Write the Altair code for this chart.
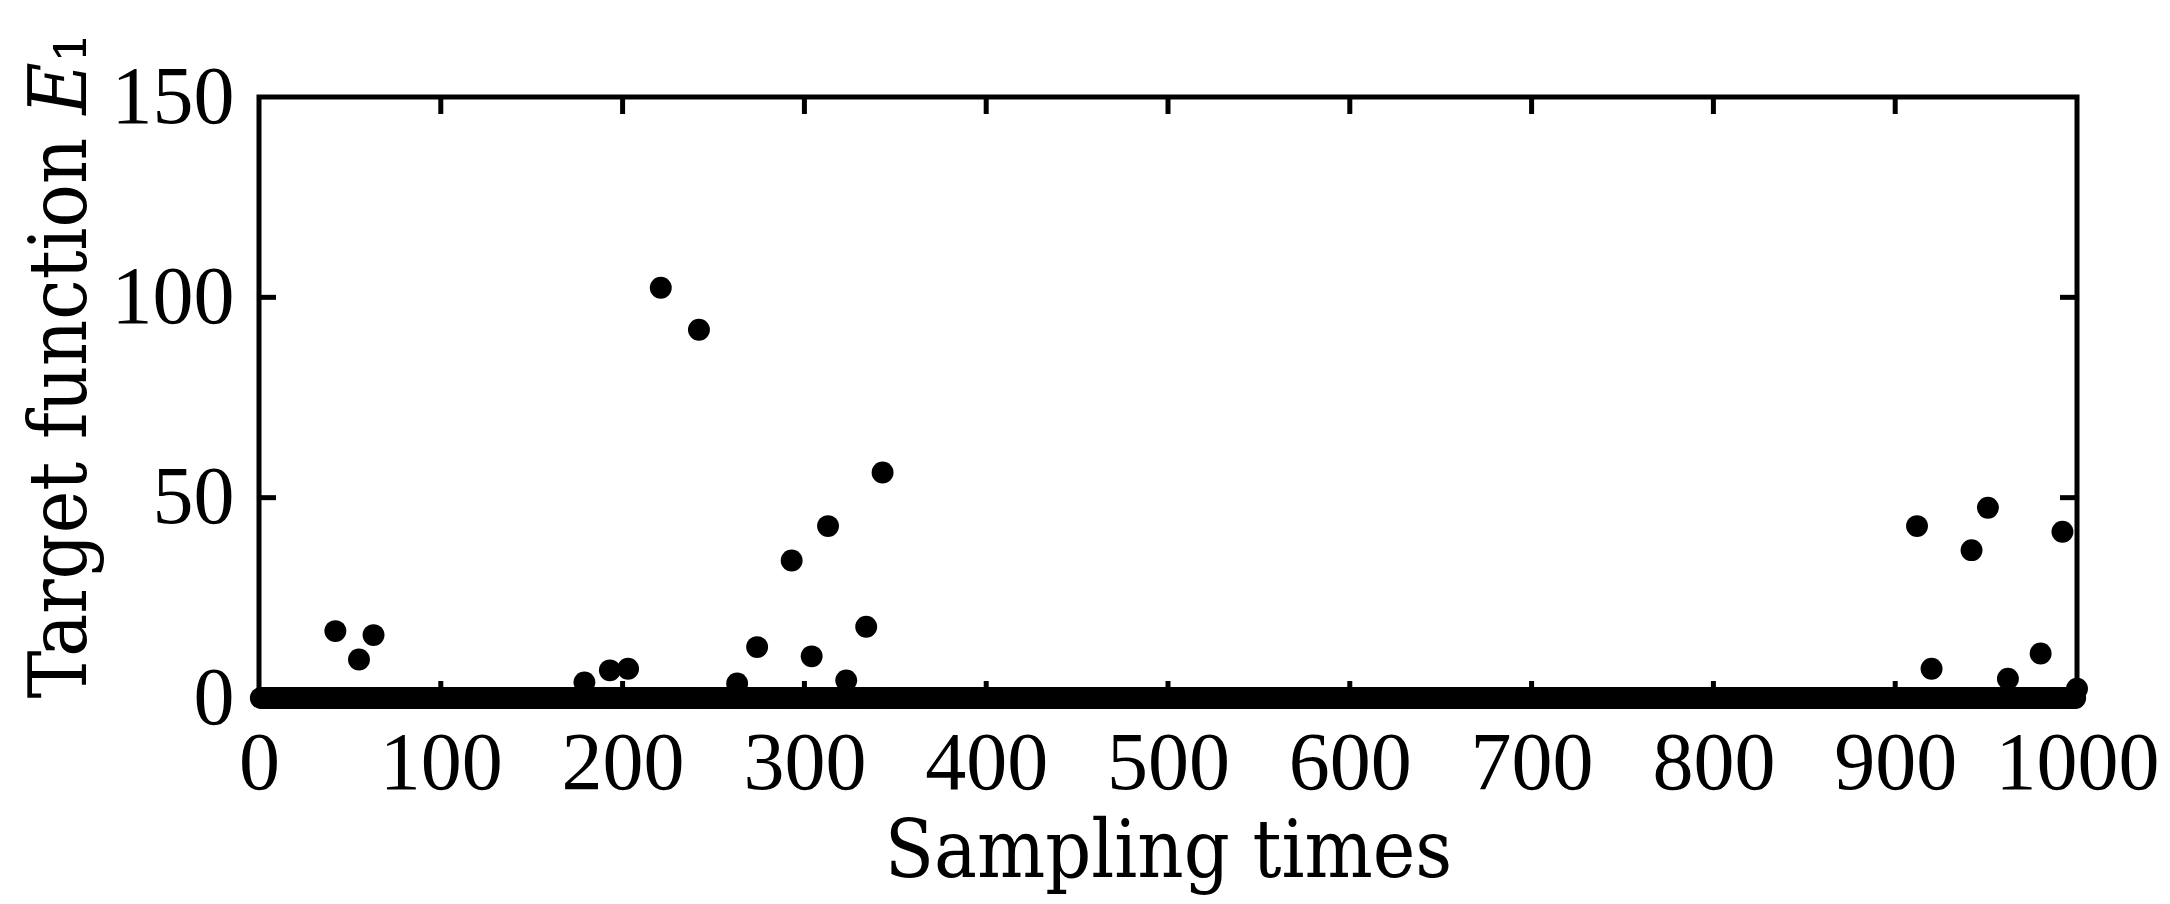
import altair as alt
import pandas as pd

# ---- data ----
# samples whose target function value clearly departs from zero
outlier_x = [42, 55, 63, 179, 193, 203, 221, 242, 263, 274, 293, 304, 313, 323, 334, 343,
             912, 920, 942, 951, 962, 980, 992, 1000]
outlier_y = [16.7, 9.6, 15.7, 3.9, 6.9, 7.3, 102.4, 91.9, 3.6, 12.7, 34.3, 10.4, 42.9, 4.4, 17.8, 56.3,
             42.9, 7.3, 36.9, 47.5, 4.8, 11.1, 41.5, 2.3]
# all other samples sit on the zero line (the thick band)
n_samples = 1000
baseline_value = 0.0

x_tick_values = [0, 100, 200, 300, 400, 500, 600, 700, 800, 900, 1000]
y_tick_values = [0, 50, 100, 150]
inner_x_ticks = [100, 200, 300, 400, 500, 600, 700, 800, 900]
inner_y_ticks = [50, 100]

# ---- build table ----
out_map = dict(zip(outlier_x, outlier_y))
t_vals = list(range(1, n_samples + 1))
e_vals = [out_map.get(t, baseline_value) for t in t_vals]
pts = pd.DataFrame({"t": t_vals, "E": e_vals})
dfx = pd.DataFrame({"t": inner_x_ticks})
dfy = pd.DataFrame({"E": inner_y_ticks})

W, H = 1818, 601
TICK = 17
LABEL_FONT = "Liberation Serif"
TITLE_FONT = "DejaVu Serif Condensed, DejaVu Serif"

xscale = alt.Scale(domain=[0, 1000], nice=False, zero=False)
yscale = alt.Scale(domain=[0, 150], nice=False)

x_axis = alt.Axis(
    values=x_tick_values, format="d", title="Sampling times",
    labelFont=LABEL_FONT, labelFontSize=82, labelColor="black",
    labelBaseline="alphabetic", labelPadding=90, labelOverlap=False, labelFlush=False,
    ticks=False, domain=False, grid=False,
    titleFont=TITLE_FONT, titleFontSize=80, titleFontWeight="normal", titleColor="black",
    titleBaseline="alphabetic", titleY=178,
)
y_axis = alt.Axis(
    values=y_tick_values, format="d", title="Target function 𝐸₁",
    labelFont=LABEL_FONT, labelFontSize=82, labelColor="black",
    labelBaseline="middle", labelPadding=25, labelOverlap=False, labelFlush=False,
    ticks=False, domain=False, grid=False,
    titleFont=TITLE_FONT, titleFontSize=80, titleFontWeight="normal", titleColor="black",
    titleAngle=270, titleBaseline="alphabetic", titleAlign="left",
    titleX=-174, titleY=H,
)

X = alt.X("t:Q", scale=xscale, axis=x_axis)
Y = alt.Y("E:Q", scale=yscale, axis=y_axis)

points = alt.Chart(pts).mark_circle(size=480, color="black", opacity=1).encode(x=X, y=Y)

rule_kw = dict(color="black", strokeWidth=5)
top_ticks = alt.Chart(dfx).mark_rule(**rule_kw).encode(
    x=X, y=alt.value(0), y2=alt.value(TICK))
bottom_ticks = alt.Chart(dfx).mark_rule(**rule_kw).encode(
    x=X, y=alt.value(H), y2=alt.value(H - TICK))
left_ticks = alt.Chart(dfy).mark_rule(**rule_kw).encode(
    y=Y, x=alt.value(0), x2=alt.value(TICK))
right_ticks = alt.Chart(dfy).mark_rule(**rule_kw).encode(
    y=Y, x=alt.value(W), x2=alt.value(W - TICK))

chart = alt.layer(points, top_ticks, bottom_ticks, left_ticks, right_ticks).properties(
    width=W, height=H, autosize="none",
    padding={"left": 251, "top": 89, "right": 84, "bottom": 197},
    background="white",
).configure_view(stroke="black", strokeWidth=5)

chart.save("out.html", embed_options={"renderer": "svg", "actions": False})
